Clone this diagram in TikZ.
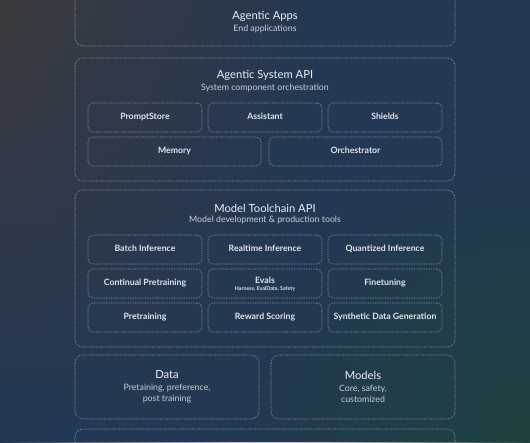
\documentclass[tikz,border=0pt]{standalone}
\usepackage{fontspec}
\setmainfont{Lato}
\usetikzlibrary{fadings}
\definecolor{bgNavy}{HTML}{233854}
\definecolor{bgGrey}{HTML}{3C3B3E}
\definecolor{bgPurple}{HTML}{3C3552}
\definecolor{bgGreen}{HTML}{1F4340}
\definecolor{lineC}{HTML}{8E99AC}
\definecolor{titleC}{HTML}{ECEEF3}
\definecolor{subC}{HTML}{C9CED8}
\definecolor{labelC}{HTML}{E2E5EC}
\tikzfading[name=glow, inner color=transparent!0, outer color=transparent!100]

\begin{document}
\begin{tikzpicture}[x=1pt,y=-1pt,
  frame/.style={draw=lineC, line width=0.6pt, dash pattern=on 0.8pt off 0.9pt, rounded corners=8pt},
  part/.style={draw=lineC, line width=0.6pt, dash pattern=on 0.8pt off 0.9pt, rounded corners=5pt,
    minimum width=114pt, minimum height=29pt, inner sep=0pt, text=labelC, align=center,
    text height=6.4pt, text depth=1.8pt, font=\bfseries\fontsize{8.7}{10}\selectfont},
  title/.style={text=titleC, font=\fontsize{11.2}{13}\selectfont},
  sub/.style={text=subC, align=center, font=\fontsize{8.8}{11}\selectfont}]
\useasboundingbox (0,0) rectangle (530,442);
\clip (0,0) rectangle (530,442);
\fill[bgNavy] (0,0) rectangle (530,442);
\shade[top color=bgGrey, middle color=bgPurple, bottom color=bgNavy, path fading=east] (0,0) rectangle (330,442);
\fill[bgGreen, path fading=glow, fit fading=true] (530,442) circle (300);

% apps layer
\draw[frame] (75,-10) rectangle (455,46);
\node[title] (apps) at (265,16) {Agentic Apps};
\node[sub] (appsSub) at (265,29) {End applications};

% system api layer
\draw[frame] (75,58) rectangle (455,181);
\node[title] (sys) at (265,75) {Agentic System API};
\node[sub] (sysSub) at (265,88) {System component orchestration};
\node[part] (prompt) at (145,117.5) {PromptStore};
\node[part] (assist) at (265,117.5) {Assistant};
\node[part] (shield) at (385,117.5) {Shields};
\node[part, minimum width=173pt] (memory) at (174.5,151.5) {Memory};
\node[part, minimum width=173pt] (orch) at (355.5,151.5) {Orchestrator};

% toolchain api layer
\draw[frame] (75,190) rectangle (455,347);
\node[title] (tool) at (265,208) {Model Toolchain API};
\node[sub] (toolSub) at (265,220) {Model development \& production tools};
\node[part] (batch) at (145,249.5) {Batch Inference};
\node[part] (realtime) at (265,249.5) {Realtime Inference};
\node[part] (quant) at (385,249.5) {Quantized Inference};
\node[part] (contin) at (145,283.5) {Continual Pretraining};
\node[part, text height=14.8pt, text depth=1.8pt] (evals) at (265,283.5) {Evals\\[-3pt]{\fontsize{5.3}{6}\selectfont Harness, EvalData, Safety}};
\node[part] (finetune) at (385,283.5) {Finetuning};
\node[part] (pretrain) at (145,317.5) {Pretraining};
\node[part] (reward) at (265,317.5) {Reward Scoring};
\node[part] (synth) at (385,317.5) {Synthetic Data Generation};

% data and models
\draw[frame] (75,355) rectangle (259,419);
\node[title] (data) at (167,375) {Data};
\node[sub] (dataSub) at (167,393.5) {Pretaining, preference,\\post training};
\draw[frame] (271,355) rectangle (455,419);
\node[title] (models) at (363,375) {Models};
\node[sub] (modelsSub) at (363,393.5) {Core, safety,\\customized};

% bottom layer
\draw[frame] (75,429) rectangle (455,470);
\end{tikzpicture}
\end{document}
